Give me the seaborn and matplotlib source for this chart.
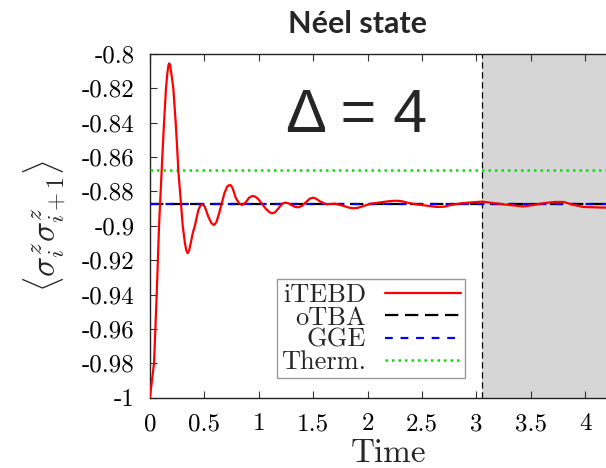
import matplotlib
matplotlib.use("Agg")
import matplotlib.pyplot as plt
import seaborn as sns
import pandas as pd

# iTEBD time evolution of the nearest-neighbour zz correlator
time = [0.0, 0.015, 0.038, 0.0625, 0.084, 0.108, 0.114, 0.130, 0.148, 0.160,
        0.170, 0.178, 0.186, 0.197, 0.215, 0.237, 0.255, 0.261, 0.286, 0.301,
        0.322, 0.335, 0.347, 0.360, 0.375, 0.395, 0.414, 0.445, 0.465, 0.485,
        0.505, 0.537, 0.565, 0.589, 0.610, 0.635, 0.66, 0.685, 0.710, 0.730,
        0.743, 0.760, 0.79, 0.82, 0.840, 0.858, 0.885, 0.91, 0.940, 0.966,
        0.995, 1.02, 1.07, 1.100, 1.125, 1.150, 1.18, 1.215, 1.242, 1.270,
        1.30, 1.335, 1.364, 1.395, 1.43, 1.470, 1.502, 1.530, 1.56, 1.62,
        1.70, 1.78, 1.83, 1.87, 1.91, 1.95, 2.03, 2.10, 2.18, 2.225,
        2.268, 2.31, 2.35, 2.45, 2.55, 2.62, 2.666, 2.71, 2.76, 2.86,
        2.96, 3.05, 3.14, 3.25, 3.34, 3.43, 3.52, 3.62, 3.72, 3.80,
        3.88, 3.98, 4.08, 4.19]
itebd = [-1.0, -0.992, -0.980, -0.940, -0.900, -0.868, -0.860, -0.840, -0.820, -0.8115,
         -0.8068, -0.8056, -0.8068, -0.8115, -0.820, -0.840, -0.860, -0.868, -0.8874, -0.8998,
         -0.9102, -0.9145, -0.9160, -0.9145, -0.9102, -0.9040, -0.8998, -0.8909, -0.8882, -0.8876,
         -0.8890, -0.8948, -0.8985, -0.8996, -0.8980, -0.8930, -0.8870, -0.8810, -0.8772, -0.8763,
         -0.8765, -0.8782, -0.8840, -0.8870, -0.8878, -0.8877, -0.8860, -0.8838, -0.8827, -0.8830,
         -0.8845, -0.8865, -0.8905, -0.8922, -0.8928, -0.8922, -0.8900, -0.8872, -0.8866, -0.8869,
         -0.8880, -0.8891, -0.8893, -0.8885, -0.8865, -0.8842, -0.8837, -0.8844, -0.8858, -0.8875,
         -0.8872, -0.8885, -0.8895, -0.8899, -0.8896, -0.8888, -0.8872, -0.8866, -0.8859, -0.8856,
         -0.8855, -0.8857, -0.8864, -0.8876, -0.8884, -0.8890, -0.8891, -0.8889, -0.8880, -0.8870,
         -0.8864, -0.8860, -0.8867, -0.8876, -0.8882, -0.8888, -0.8880, -0.8869, -0.8862, -0.8862,
         -0.8877, -0.8891, -0.8893, -0.8895]

# stationary predictions
otba_value = -0.8874
gge_value = -0.8874
therm_value = -0.8678

# reliability limit of the iTEBD data
t_limit = 3.055

x_ticks = [0, 0.5, 1, 1.5, 2, 2.5, 3, 3.5, 4]
x_tick_labels = ["0", "0.5", "1", "1.5", "2", "2.5", "3", "3.5", "4"]
y_ticks = [-0.8, -0.82, -0.84, -0.86, -0.88, -0.9, -0.92, -0.94, -0.96, -0.98, -1.0]
y_tick_labels = ["-0.8", "-0.82", "-0.84", "-0.86", "-0.88", "-0.9",
                 "-0.92", "-0.94", "-0.96", "-0.98", "-1"]

sns.set_theme(style="ticks")
plt.rcParams["font.family"] = ["cmr10", "DejaVu Sans"]
plt.rcParams["mathtext.fontset"] = "cm"
plt.rcParams["axes.unicode_minus"] = False
plt.rcParams["axes.formatter.use_mathtext"] = True

W, H = 606, 468
fig = plt.figure(figsize=(W / 100, H / 100), dpi=100)
ax = fig.add_axes([149.9 / W, 1 - 397.7 / H, 1 - 149.9 / W, (397.7 - 53.7) / H])

x_max = 4.19
ax.set_xlim(0, x_max)
ax.set_ylim(-1.0, -0.8)

ax.axvspan(t_limit, x_max, color="#d6d6d6", lw=0, zorder=0)
ax.axvline(t_limit, color="black", lw=0.9, dashes=(5, 3), zorder=1)

df = pd.DataFrame({"Time": time, "corr": itebd})
sns.lineplot(data=df, x="Time", y="corr", ax=ax, color="#ff0000", lw=1.6,
             zorder=5, sort=False)
ax.axhline(therm_value, color="#00e600", lw=1.8, dashes=(1, 1.6), zorder=3)
ax.axhline(otba_value, color="black", lw=1.6, dashes=(6, 3), zorder=3)
ax.axhline(gge_value, color="#0000ff", lw=1.6, dashes=(3.5, 3.5), zorder=4)

# legend proxies
h_itebd = plt.Line2D([], [], color="#ff0000", lw=1.6)
h_otba = plt.Line2D([], [], color="black", lw=1.6, dashes=(6, 3))
h_gge = plt.Line2D([], [], color="#0000ff", lw=1.6, dashes=(3.5, 3.5))
h_therm = plt.Line2D([], [], color="#00e600", lw=1.8, dashes=(1, 1.6))
leg = ax.legend([h_itebd, h_otba, h_gge, h_therm], ["iTEBD", "oTBA", "GGE", "Therm."],
                loc="upper right", bbox_to_anchor=(465 / W, 1 - 279.4 / H),
                bbox_transform=fig.transFigure, borderaxespad=0,
                markerfirst=False, fancybox=False, framealpha=1,
                edgecolor="#999999", fontsize=19, labelspacing=-0.05,
                handlelength=2.9, handletextpad=0.7, borderpad=0.15)
leg.get_frame().set_linewidth(1.0)

ax.set_xticks(x_ticks, x_tick_labels)
ax.set_yticks(y_ticks, y_tick_labels)
ax.tick_params(axis="both", direction="in", length=5, width=0.8, labelsize=18,
               pad=11, colors="#333333", labelcolor="black")
ax.tick_params(axis="x", top=True)
ax.tick_params(axis="y", right=False)
for side in ["left", "bottom", "top"]:
    ax.spines[side].set_color("#222222")
    ax.spines[side].set_linewidth(1.0)
ax.spines["right"].set_visible(False)

ax.set_xlabel("Time", fontsize=24, va="baseline")
ax.xaxis.set_label_coords((388.5 - 149.9) / (W - 149.9), -(462.5 - 397.7) / (397.7 - 53.7))
ax.set_ylabel(r"$\langle\sigma^z_i\sigma^z_{i+1}\rangle$", fontsize=24)
ax.yaxis.set_label_coords(-(149.9 - 67) / (W - 149.9), 0.5)

ax.text(356.5 / W, 1 - 131.5 / H, "\u0394 = 4", transform=fig.transFigure,
        family="Liberation Sans", fontsize=44, ha="center", va="baseline")

fig.text(357 / W, 1 - 24 / H, "Néel state", family="Lato", weight="bold",
         fontsize=22, ha="center", va="center")

fig.savefig("out.png", dpi=100)
